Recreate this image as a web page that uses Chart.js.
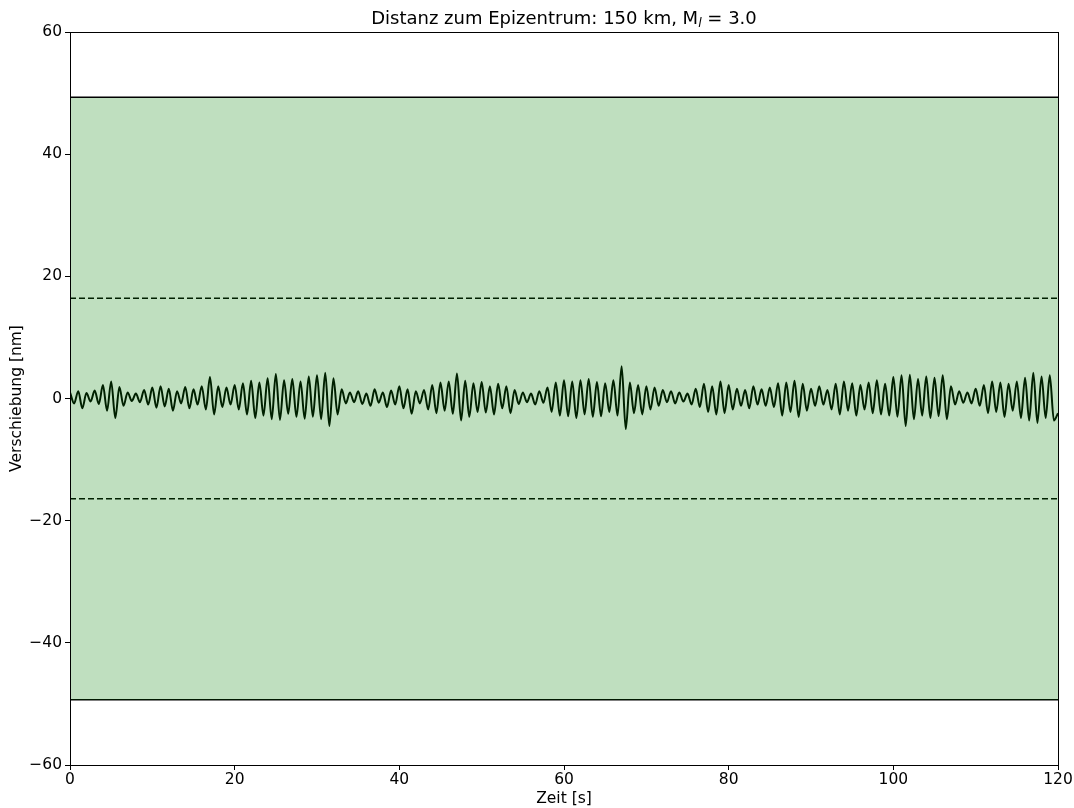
<!DOCTYPE html>
<html>
<head>
<meta charset="utf-8">
<script src="https://cdn.jsdelivr.net/npm/chart.js@4"></script>
<style>
  html, body { margin: 0; padding: 0; background: #fff; }
  #wrap { width: 1074px; height: 808px; }
</style>
</head>
<body>
<div id="wrap"><canvas id="seismo" width="1074" height="808"></canvas></div>
<script>
const dt = 0.5;
const verschiebung = [
  1.0, -0.8, 1.2, -1.6, 0.9, -0.5, 1.3, -0.9, 2.2, -2.0,
  2.8, -3.2, 1.9, -1.2, 1.0, -0.4, 0.8, -0.6, 1.4, -1.0,
  1.8, -1.5, 2.0, -1.3, 1.6, -2.0, 1.2, -0.8, 1.9, -1.6,
  1.5, -1.0, 2.0, -1.8, 3.5, -2.6, 2.0, -1.4, 1.8, -1.0,
  2.2, -1.8, 2.5, -2.6, 2.9, -3.2, 2.6, -2.8, 3.3, -3.4,
  4.0, -3.5, 3.0, -2.5, 3.2, -3.0, 2.8, -3.3, 3.6, -3.0,
  3.8, -3.4, 4.2, -4.5, 3.3, -2.6, 1.5, -0.8, 1.0, -0.6,
  1.2, -0.9, 0.8, -1.2, 1.5, -0.7, 1.0, -1.4, 1.3, -1.0,
  2.0, -1.6, 1.5, -2.5, 1.2, -0.8, 1.4, -1.8, 2.2, -2.4,
  2.6, -2.0, 2.8, -2.5, 4.1, -3.6, 2.9, -3.0, 2.5, -2.2,
  2.7, -2.3, 2.0, -2.6, 2.4, -1.6, 2.0, -2.4, 1.4, -0.9,
  1.0, -0.6, 0.8, -1.0, 1.2, -0.7, 1.8, -2.2, 2.6, -2.8,
  3.0, -2.9, 2.8, -3.2, 3.0, -2.6, 3.2, -3.0, 2.7, -2.9,
  2.5, -2.2, 3.0, -2.8, 5.3, -5.0, 2.6, -2.4, 2.2, -2.6,
  2.0, -1.8, 1.8, -1.2, 1.4, -0.6, 1.2, -0.8, 1.0, -0.5,
  0.8, -1.0, 1.6, -1.4, 2.4, -2.2, 2.0, -2.6, 2.8, -2.4,
  2.2, -1.8, 1.6, -1.2, 1.4, -1.6, 2.0, -1.0, 1.5, -1.2,
  1.8, -1.4, 2.5, -2.8, 2.6, -2.2, 2.9, -3.0, 2.4, -2.0,
  1.6, -1.2, 2.0, -1.0, 1.4, -1.8, 2.4, -2.6, 2.8, -2.0,
  2.5, -2.8, 2.2, -1.8, 2.6, -2.4, 3.0, -2.6, 2.4, -2.8,
  3.5, -3.0, 3.8, -4.5, 3.9, -3.4, 3.2, -2.8, 3.6, -3.2,
  3.4, -2.9, 3.8, -3.4, 2.0, -1.0, 1.2, -0.7, 1.0, -0.8,
  1.6, -1.2, 2.2, -2.4, 2.8, -2.2, 2.6, -3.0, 2.4, -2.0,
  2.8, -3.2, 3.4, -3.6, 4.2, -4.0, 3.6, -3.2, 3.8, -3.6,
  -2.4
];
// Grenzen (Band und gestrichelte Linien)
const zeitBereich = [0, 120];
const bandGrenze = 49.3;
const schwelle = 16.4;
const xTicks = [0, 20, 40, 60, 80, 100, 120];
const yTicks = [-60, -40, -20, 0, 20, 40, 60];

const FONT = "'DejaVu Sans', sans-serif";
const trace = verschiebung.map((v, i) => ({ x: i * dt, y: v }));
const hline = (y) => zeitBereich.map(x => ({ x, y }));
const fmt = (v) => (v < 0 ? '\u2212' + Math.abs(v) : String(v));

// Titel mit tiefgestelltem, kursivem l
const titlePlugin = {
  id: 'titel',
  afterDraw(chart) {
    const { ctx, chartArea } = chart;
    const parts = [
      { t: 'Distanz zum Epizentrum: 150 km, M', f: '18px ' + FONT, dy: 0 },
      { t: 'l', f: 'italic 12.6px ' + FONT, dy: 3 },
      { t: ' = 3.0', f: '18px ' + FONT, dy: 0 }
    ];
    ctx.save();
    let w = 0;
    for (const p of parts) { ctx.font = p.f; w += ctx.measureText(p.t).width; }
    let x = (chartArea.left + chartArea.right) / 2 - w / 2;
    const y = chartArea.top - 8;
    ctx.fillStyle = '#000';
    ctx.textBaseline = 'alphabetic';
    for (const p of parts) {
      ctx.font = p.f;
      ctx.fillText(p.t, x, y + p.dy);
      x += ctx.measureText(p.t).width;
    }
    ctx.restore();
  }
};
// Rahmen um die Zeichenfläche
const framePlugin = {
  id: 'rahmen',
  afterDatasetsDraw(chart) {
    const { ctx, chartArea: a } = chart;
    ctx.save();
    ctx.strokeStyle = '#000';
    ctx.lineWidth = 1;
    ctx.strokeRect(Math.round(a.left) + 0.5, Math.round(a.top) + 0.5,
      Math.round(a.right - a.left), Math.round(a.bottom - a.top));
    ctx.restore();
  }
};

new Chart(document.getElementById('seismo'), {
  type: 'line',
  data: {
    datasets: [
      { data: hline(bandGrenze), borderColor: '#000', borderWidth: 1.5,
        backgroundColor: 'rgba(0,128,0,0.25)', fill: 1, pointRadius: 0 },
      { data: hline(-bandGrenze), borderColor: '#000', borderWidth: 1.5,
        fill: false, pointRadius: 0 },
      { data: hline(schwelle), borderColor: '#000', borderWidth: 1.5,
        borderDash: [6, 3], fill: false, pointRadius: 0 },
      { data: hline(-schwelle), borderColor: '#000', borderWidth: 1.5,
        borderDash: [6, 3], fill: false, pointRadius: 0 },
      { data: trace, borderColor: '#000', borderWidth: 2,
        fill: false, pointRadius: 0, tension: 0.4, cubicInterpolationMode: 'monotone' }
    ]
  },
  options: {
    responsive: false,
    animation: false,
    layout: { padding: { top: 32, right: 16, left: 0, bottom: 0 } },
    plugins: { legend: { display: false }, tooltip: { enabled: false }, title: { display: false } },
    scales: {
      x: {
        type: 'linear', min: 0, max: 120,
        afterBuildTicks: (s) => { s.ticks = xTicks.map(v => ({ value: v })); },
        afterFit: (s) => { s.height = 43; },
        grid: { drawOnChartArea: false, drawTicks: true, tickLength: 5, color: '#000' },
        border: { display: false },
        ticks: { color: '#000', font: { family: FONT, size: 15.5 }, padding: 1, maxRotation: 0,
                 callback: (v) => fmt(v) },
        title: { display: true, text: 'Zeit [s]', color: '#000',
                 font: { family: FONT, size: 15.5 }, padding: { top: 0, bottom: 0 } }
      },
      y: {
        type: 'linear', min: -60, max: 60,
        afterBuildTicks: (s) => { s.ticks = yTicks.map(v => ({ value: v })); },
        afterFit: (s) => { s.width = 70; },
        grid: { drawOnChartArea: false, drawTicks: true, tickLength: 5, color: '#000' },
        border: { display: false },
        ticks: { color: '#000', font: { family: FONT, size: 15.5 }, padding: 3,
                 callback: (v) => fmt(v) },
        title: { display: true, text: 'Verschiebung [nm]', color: '#000',
                 font: { family: FONT, size: 15.5 }, padding: { top: 8, bottom: 0 } }
      }
    }
  },
  plugins: [titlePlugin, framePlugin]
});
</script>
</body>
</html>
